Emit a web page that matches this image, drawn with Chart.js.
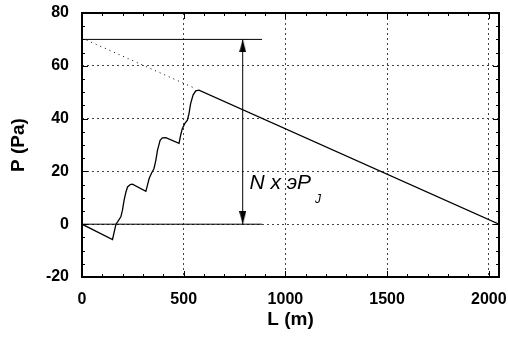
<!DOCTYPE html>
<html><head><meta charset="utf-8">
<script src="https://cdn.jsdelivr.net/npm/chart.js@4/dist/chart.umd.min.js"></script>
<style>html,body{margin:0;padding:0;background:#fff;}canvas{display:block;}</style>
</head><body>
<canvas id="c" width="508" height="340"></canvas>
<script>
// ---- data ----
const curveL = [0, 150, 167, 175, 191, 199, 207, 216, 224, 237, 248, 314, 322, 330, 341, 354, 363, 371, 384, 395, 412, 477, 485, 493, 505, 518, 526, 534, 546, 559, 575, 2050];
const curveP = [0, -5.8, 0, 0.9, 2.8, 5.3, 9.1, 12.2, 14.1, 15.0, 15.2, 12.5, 14.8, 17.3, 19.2, 21.1, 24.2, 28.0, 31.8, 32.7, 32.8, 30.6, 33.7, 36.2, 38.1, 39.4, 41.9, 45.7, 48.9, 50.5, 50.8, 0];
const trendL = [0, 560];
const trendP = [70.5, 51.3];
const topLineL = [0, 885];
const topLineP = [70, 70];
const zeroLineL = [0, 885];
const zeroLineP = [0, 0];
const arrowL = [790, 790];
const arrowP = [0, 70];
const xTicks = [0, 500, 1000, 1500, 2000];
const yTicks = [-20, 0, 20, 40, 60, 80];
const xMinorStep = 100;
const yMinorStep = 5;
const xTitle = 'L (m)';
const yTitle = 'P (Pa)';
const annotationText = 'N x эP';
const annotationSub = 'J';
const annotationL = 823;
const annotationP = 13.3;

const FONT = '"Liberation Sans", Arial, sans-serif';
function pts(xs, ys) { return xs.map((x, i) => ({ x: x, y: ys[i] })); }

function arrowHead(up) {
  const w = 7, h = 13;
  const c = document.createElement('canvas');
  c.width = w; c.height = 2 * h;
  const g = c.getContext('2d');
  g.fillStyle = '#000';
  g.beginPath();
  if (up) { g.moveTo(w / 2, h); g.lineTo(w, 2 * h); g.lineTo(0, 2 * h); }
  else { g.moveTo(w / 2, h); g.lineTo(w, 0); g.lineTo(0, 0); }
  g.closePath(); g.fill();
  return c;
}

const framePlugin = {
  id: 'frame',
  afterDatasetsDraw(chart) {
    const { ctx, chartArea: a, scales } = chart;
    const x = scales.x, y = scales.y;
    ctx.save();
    ctx.strokeStyle = '#000';
    ctx.lineWidth = 1;
    ctx.beginPath();
    for (let v = x.min; v <= x.max + 1e-9; v += xMinorStep) {
      const px = Math.round(x.getPixelForValue(v)) + 0.5;
      const len = xTicks.includes(v) ? 6 : 3;
      ctx.moveTo(px, a.bottom); ctx.lineTo(px, a.bottom - len);
      ctx.moveTo(px, a.top); ctx.lineTo(px, a.top + len);
    }
    for (let v = y.min; v <= y.max + 1e-9; v += yMinorStep) {
      const py = Math.round(y.getPixelForValue(v)) + 0.5;
      const len = yTicks.includes(v) ? 6 : 3;
      ctx.moveTo(a.left, py); ctx.lineTo(a.left + len, py);
      ctx.moveTo(a.right, py); ctx.lineTo(a.right - len, py);
    }
    ctx.stroke();
    ctx.lineWidth = 2;
    ctx.strokeRect(a.left, a.top, a.right - a.left, a.bottom - a.top);
    // annotation text
    ctx.fillStyle = '#000';
    ctx.textAlign = 'left';
    ctx.textBaseline = 'alphabetic';
    ctx.font = 'italic 21px ' + FONT;
    const tx = x.getPixelForValue(annotationL), ty = y.getPixelForValue(annotationP);
    ctx.fillText(annotationText, tx, ty);
    const w = ctx.measureText(annotationText).width;
    ctx.font = 'italic 12px ' + FONT;
    ctx.fillText(annotationSub, tx + w + 4, ty + 14);
    ctx.restore();
  }
};

const tickFont = { family: FONT, size: 16, weight: 'bold' };
const titleFont = { family: FONT, size: 19, weight: 'bold' };
const gridOpts = { display: true, drawOnChartArea: true, color: '#444', lineWidth: 1, drawTicks: false, z: 0 };

new Chart(document.getElementById('c'), {
  type: 'line',
  data: {
    datasets: [
      { data: pts(curveL, curveP), borderColor: '#000', borderWidth: 1.3, pointRadius: 0, tension: 0, fill: false },
      { data: pts(trendL, trendP), borderColor: '#000', borderWidth: 1, borderDash: [1, 4], pointRadius: 0, fill: false },
      { data: pts(topLineL, topLineP), borderColor: '#000', borderWidth: 1, pointRadius: 0, fill: false },
      { data: pts(zeroLineL, zeroLineP), borderColor: '#000', borderWidth: 1, pointRadius: 0, fill: false },
      { data: pts(arrowL, arrowP), borderColor: '#000', borderWidth: 1, pointRadius: 5,
        pointStyle: [arrowHead(false), arrowHead(true)], fill: false }
    ]
  },
  options: {
    responsive: false,
    animation: false,
    devicePixelRatio: 1,
    layout: { padding: { left: 0, right: 9, top: 13, bottom: 0 } },
    plugins: { legend: { display: false }, tooltip: { enabled: false } },
    scales: {
      x: {
        type: 'linear', min: 0, max: 2050,
        afterBuildTicks: s => { s.ticks = xTicks.map(v => ({ value: v })); },
        afterFit: s => { s.height = 63; s.paddingLeft = 0; s.paddingRight = 0; },
        ticks: { font: tickFont, color: '#000', padding: 13, maxRotation: 0, callback: v => String(v) },
        grid: gridOpts,
        border: { display: false, dash: [2, 3] },
        title: { display: true, text: xTitle, font: titleFont, color: '#000', padding: { top: 0, bottom: 9 } }
      },
      y: {
        type: 'linear', min: -20, max: 80,
        afterBuildTicks: s => { s.ticks = yTicks.map(v => ({ value: v })); },
        afterFit: s => { s.width = 82; s.paddingTop = 0; s.paddingBottom = 0; },
        ticks: { font: tickFont, color: '#000', padding: 13, callback: v => String(v) },
        grid: gridOpts,
        border: { display: false, dash: [2, 3] },
        title: { display: true, text: yTitle, font: titleFont, color: '#000', padding: { top: 7, bottom: 0 } }
      }
    }
  },
  plugins: [framePlugin]
});
</script>
</body></html>
